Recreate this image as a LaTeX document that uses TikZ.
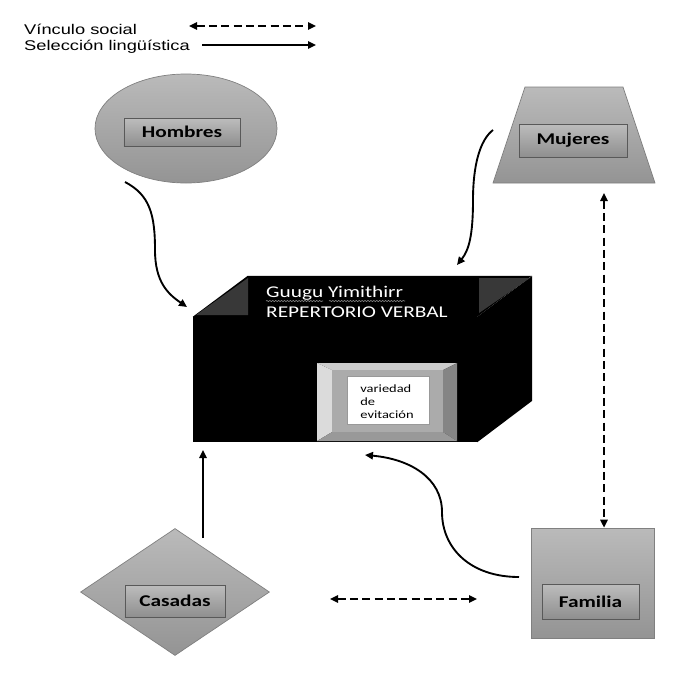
\documentclass[tikz,border=0pt]{standalone}
\usepackage{fontspec}
\newfontfamily\boxfont[FakeStretch=1.3]{Carlito}
\newfontfamily\legfont[FakeStretch=1.3]{Liberation Sans}
\usetikzlibrary{arrows.meta,shapes.geometric,decorations.pathmorphing}

\begin{document}
\begin{tikzpicture}[x=0.03cm, y=-0.03cm,
	link/.style={line width=1.6pt, -{Triangle[length=2.4mm,width=2.2mm]}},
	tie/.style={line width=1.6pt, dash pattern=on 2.4mm off 1.3mm, {Triangle[length=2.4mm,width=2.2mm]}-{Triangle[length=2.4mm,width=2.2mm]}},
	grayfill/.style={draw=black!50, line width=0.6pt, top color=black!27, bottom color=black!42},
	namebox/.style={draw=black!65, line width=0.6pt, top color=black!26, bottom color=black!44, inner sep=0pt, font=\boxfont\bfseries\fontsize{14}{16}\selectfont},
	legtext/.style={anchor=base west, inner sep=0pt, font=\legfont\fontsize{12}{14}\selectfont}
	]
				\useasboundingbox (0,0) rectangle (700,694);
				% legend
				\node[legtext] (leg-social) at (24,34) {Vínculo social};
				\node[legtext] (leg-ling) at (24,50) {Selección lingüística};
				\coordinate (leg-a1) at (189,26);
				\coordinate (leg-a2) at (316,26);
				\coordinate (leg-b1) at (202,45);
				\coordinate (leg-b2) at (316,45);
				\draw[tie] (leg-a1) -- (leg-a2);
				\draw[link] (leg-b1) -- (leg-b2);
				% groups
				\node[ellipse, grayfill, minimum width=5.46cm, minimum height=3.27cm, inner sep=0pt] (hombres-bg) at (186,128.5) {};
				\node[namebox, minimum width=3.48cm, minimum height=0.84cm] (hombres) at (182,132) {Hombres};
				\draw[grayfill] (525,87) -- (623,87) -- (655,183) -- (493,183) -- cycle;
				\node[namebox, minimum width=3.24cm, minimum height=0.99cm] (mujeres) at (573,140.5) {Mujeres};
				\node[diamond, grayfill, minimum width=5.67cm, minimum height=3.81cm, inner sep=0pt] (casadas-bg) at (175,592) {};
				\node[namebox, minimum width=3cm, minimum height=0.96cm] (casadas) at (175,601) {Casadas};
				\node[grayfill, minimum width=3.69cm, minimum height=3.3cm, inner sep=0pt] (familia-bg) at (592.5,583) {};
				\node[namebox, minimum width=2.91cm, minimum height=1.05cm] (familia) at (590.5,601.5) {Familia};
				% repertorio box
				\node[fill=black, minimum width=8.52cm, minimum height=3.75cm, inner sep=0pt] (rep) at (335,379.5) {};
				\fill[black] (rep.north west) -- ++(55,-41) -- ++(284,0) -- (rep.north east) -- cycle;
				\fill[black] (rep.north east) -- ++(55,-41) -- ++(0,125) -- (rep.south east) -- cycle;
				\fill[black!78] (196,315) -- (248,278) -- (248,315) -- cycle;
				\fill[black!78] (479,278) -- (530,278) -- (479,313) -- cycle;
				\node[anchor=base west, inner sep=0pt, text=white, font=\boxfont\fontsize{14}{16}\selectfont] (rep-name) at (266,297) {Guugu Yimithirr};
				\node[anchor=base west, inner sep=0pt, text=white, font=\boxfont\fontsize{14}{16}\selectfont] (rep-title) at (266,317) {REPERTORIO VERBAL};
				\foreach \a/\b in {266/323, 329/405} {
					\draw[black!45, line width=0.5pt, decorate, decoration={snake, amplitude=0.5pt, segment length=2.5pt}] (\a,301) -- (\b,301);
				}
				% bevel frame
				\fill[black!20] (317,363) -- (457,363) -- (443,370) -- (332,370) -- cycle;
				\fill[black!14] (317,363) -- (332,370) -- (332,432) -- (317,441) -- cycle;
				\fill[black!48] (457,363) -- (443,370) -- (443,432) -- (457,441) -- cycle;
				\fill[black!40] (317,441) -- (332,432) -- (443,432) -- (457,441) -- cycle;
				\fill[black!33] (332,370) rectangle (443,432);
				\node[draw=black!40, fill=white, minimum width=2.46cm, minimum height=1.44cm, inner sep=0pt] (evit-box) at (388,400) {};
				\node[align=left, inner sep=0pt, font=\boxfont\fontsize{9.5}{11.2}\selectfont] (evit) at (387,402) {variedad\\de\\evitación};
				% connectors
				\coordinate (hom-out) at (125,182);
				\coordinate (rep-hom) at (187,307);
				\coordinate (muj-out) at (493,130);
				\coordinate (rep-muj) at (457,265);
				\coordinate (cas-out) at (203,538);
				\coordinate (rep-cas) at (203,450);
				\coordinate (fam-out) at (519,577);
				\coordinate (rep-fam) at (365,455);
				\coordinate (cas-tie) at (330,599);
				\coordinate (fam-tie) at (477,599);
				\coordinate (muj-tie) at (604,193);
				\draw[link] (hom-out) .. controls (150,195) and (155,215) .. (155,250) .. controls (155,282) and (168,294) .. (rep-hom);
				\draw[link] (muj-out) .. controls (480,140) and (473,165) .. (473,200) .. controls (473,235) and (469,250) .. (rep-muj);
				\draw[link] (cas-out) -- (rep-cas);
				\draw[link] (fam-out) .. controls (470,577) and (442,548) .. (442,512) .. controls (442,478) and (410,459) .. (rep-fam);
				\draw[tie] (cas-tie) -- (fam-tie);
				\draw[tie] (muj-tie) -- (muj-tie |- familia-bg.north);
\end{tikzpicture}
\end{document}
